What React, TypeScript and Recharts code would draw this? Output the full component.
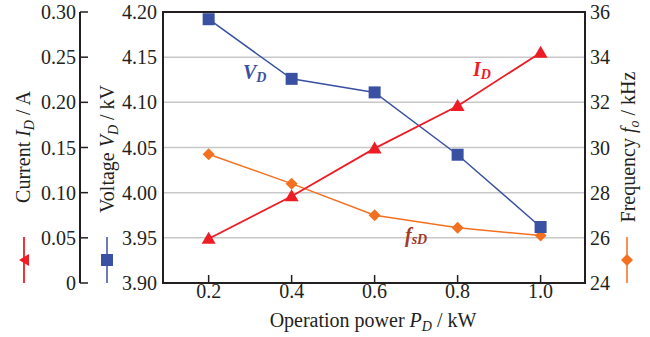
import React from 'react';
import { LineChart, Line, XAxis, YAxis, CartesianGrid, ReferenceArea } from 'recharts';

// --- dados ---
const potencia = [0.2, 0.4, 0.6, 0.8, 1.0];
const tensaoVD = [4.192, 4.126, 4.111, 4.042, 3.962];
const correnteID = [0.049, 0.096, 0.149, 0.196, 0.255];
const freqFo = [29.7, 28.4, 27.0, 26.45, 26.1];

const ticksX = [0.2, 0.4, 0.6, 0.8, 1.0];
const ticksV = [3.9, 3.95, 4.0, 4.05, 4.1, 4.15, 4.2];
const ticksI = [0, 0.05, 0.1, 0.15, 0.2, 0.25, 0.3];
const ticksF = [24, 26, 28, 30, 32, 34, 36];

const dados = potencia.map((p, i) => ({ p, v: tensaoVD[i], i: correnteID[i], f: freqFo[i] }));

const VERMELHO = '#ee1c25';
const AZUL = '#3a51a3';
const LARANJA = '#f37021';
const TEXTO = '#231f20';
const FONTE = '"Liberation Serif", "DejaVu Serif", serif';
const TAM = 20;

const Triangulo = (props: any) => {
  const { cx, cy } = props;
  return <path d={`M${cx},${cy - 7} L${cx + 7},${cy + 5} L${cx - 7},${cy + 5} Z`} fill={VERMELHO} />;
};
const Quadrado = (props: any) => {
  const { cx, cy } = props;
  return <rect x={cx - 6} y={cy - 6} width={12} height={12} fill={AZUL} />;
};
const Losango = (props: any) => {
  const { cx, cy } = props;
  return <path d={`M${cx},${cy - 6} L${cx + 6},${cy} L${cx},${cy + 6} L${cx - 6},${cy} Z`} fill={LARANJA} />;
};

const TickX = (props: any) => {
  const { x, y, payload } = props;
  const eixo = y - 2;
  return (
    <g>
      <line x1={x} y1={eixo} x2={x} y2={eixo - 8} stroke={TEXTO} strokeWidth={1.5} />
      <text x={x} y={y + 13} textAnchor="middle" fill={TEXTO} fontSize={TAM} fontFamily={FONTE}>{Number(payload.value).toFixed(1)}</text>
    </g>
  );
};

const TickCorrente = (props: any) => {
  const { x, y, payload } = props;
  const v = Number(payload.value);
  return (
    <g>
      <line x1={x + 4} y1={y} x2={x + 12} y2={y} stroke={TEXTO} strokeWidth={1.5} />
      <text x={x} y={y + 7} textAnchor="end" fill={TEXTO} fontSize={TAM} fontFamily={FONTE}>{v === 0 ? '0' : v.toFixed(2)}</text>
    </g>
  );
};

const TickTensao = (props: any) => {
  const { x, y, payload } = props;
  return <text x={x} y={y + 7} textAnchor="end" fill={TEXTO} fontSize={TAM} fontFamily={FONTE}>{Number(payload.value).toFixed(2)}</text>;
};

const TickFreq = (props: any) => {
  const { x, y, payload } = props;
  return <text x={x} y={y + 7} textAnchor="start" fill={TEXTO} fontSize={TAM} fontFamily={FONTE}>{payload.value}</text>;
};

export default function App() {
  return (
    <div style={{ position: 'absolute', left: 0, top: 0, width: 650, height: 337, background: '#fff' }}>
      <LineChart width={650} height={337} data={dados} margin={{ top: 12, right: 0, bottom: 24, left: 0 }}>
        <CartesianGrid yAxisId="a" vertical={false} stroke="#c8c8c8" strokeWidth={1.5} />
        <XAxis dataKey="p" type="number" domain={[0.09, 1.107]} ticks={ticksX} height={30}
          axisLine={{ stroke: TEXTO, strokeWidth: 2 }} tickLine={false} tickSize={0} tickMargin={2} tick={<TickX />} />
        <YAxis yAxisId="a" orientation="left" domain={[3.9, 4.2]} ticks={ticksV} width={83}
          axisLine={{ stroke: TEXTO, strokeWidth: 2 }} tickLine={false} tickSize={0} tickMargin={6} tick={<TickTensao />} />
        <YAxis yAxisId="z" orientation="left" domain={[0, 0.3]} ticks={ticksI} width={80}
          axisLine={{ stroke: TEXTO, strokeWidth: 2 }} tickLine={false} tickSize={0} tickMargin={4} tick={<TickCorrente />} />
        <YAxis yAxisId="f" orientation="right" domain={[24, 36]} ticks={ticksF} width={65}
          axisLine={{ stroke: TEXTO, strokeWidth: 2 }} tickLine={false} tickSize={0} tickMargin={5} tick={<TickFreq />} />
        <ReferenceArea yAxisId="a" x1={0.09} x2={1.107} y1={3.9} y2={4.2} fill="none" stroke={TEXTO} strokeWidth={2} ifOverflow="visible" />
        <Line yAxisId="f" dataKey="f" stroke={LARANJA} strokeWidth={1.5} dot={<Losango />} isAnimationActive={false} />
        <Line yAxisId="a" dataKey="v" stroke={AZUL} strokeWidth={1.5} dot={<Quadrado />} isAnimationActive={false} />
        <Line yAxisId="z" dataKey="i" stroke={VERMELHO} strokeWidth={1.8} dot={<Triangulo />} isAnimationActive={false} />
      </LineChart>
      <svg width={650} height={337} style={{ position: 'absolute', left: 0, top: 0, pointerEvents: 'none' }} fontFamily={FONTE}>
        {/* títulos dos eixos */}
        <text transform="translate(30,147) rotate(-90)" textAnchor="middle" fontSize={TAM} fill={TEXTO}>
          Current <tspan fontStyle="italic">I</tspan><tspan fontStyle="italic" fontSize={14} dy={4}>D</tspan><tspan dy={-4}> / A</tspan>
        </text>
        <text transform="translate(114,149) rotate(-90)" textAnchor="middle" fontSize={TAM} fill={TEXTO}>
          Voltage <tspan fontStyle="italic">V</tspan><tspan fontStyle="italic" fontSize={14} dy={4}>D</tspan><tspan dy={-4}> / kV</tspan>
        </text>
        <text transform="translate(635,147) rotate(-90)" textAnchor="middle" fontSize={TAM} fill={TEXTO}>
          Frequency <tspan fontStyle="italic">f</tspan><tspan fontStyle="italic" fontSize={14} dy={4}>o</tspan><tspan dy={-4}> / kHz</tspan>
        </text>
        <text x={373} y={327} textAnchor="middle" fontSize={TAM} fill={TEXTO}>
          Operation power <tspan fontStyle="italic">P</tspan><tspan fontStyle="italic" fontSize={14} dy={4}>D</tspan><tspan dy={-4}> / kW</tspan>
        </text>
        {/* rótulos das séries */}
        <text x={243} y={79} fontSize={TAM} fontStyle="italic" fontWeight="bold" fill={AZUL}>
          V<tspan fontSize={14} dy={3}>D</tspan>
        </text>
        <text x={473} y={76} fontSize={TAM} fontStyle="italic" fontWeight="bold" fill={VERMELHO}>
          I<tspan fontSize={14} dy={3}>D</tspan>
        </text>
        <text x={405} y={242} fontSize={TAM} fontStyle="italic" fontWeight="bold" fill="#a33a28">
          f<tspan fontSize={14} dy={2}>sD</tspan>
        </text>
        {/* marcadores de legenda */}
        <line x1={24} y1={237} x2={24} y2={283} stroke={VERMELHO} strokeWidth={1.8} />
        <path d="M19,260 L29,254 L29,266 Z" fill={VERMELHO} />
        <line x1={107} y1={237} x2={107} y2={283} stroke={AZUL} strokeWidth={1.5} />
        <rect x={101} y={254} width={12} height={12} fill={AZUL} />
        <line x1={627} y1={237} x2={627} y2={283} stroke={LARANJA} strokeWidth={1.5} />
        <path d="M627,254 L633,260 L627,266 L621,260 Z" fill={LARANJA} />
      </svg>
    </div>
  );
}
